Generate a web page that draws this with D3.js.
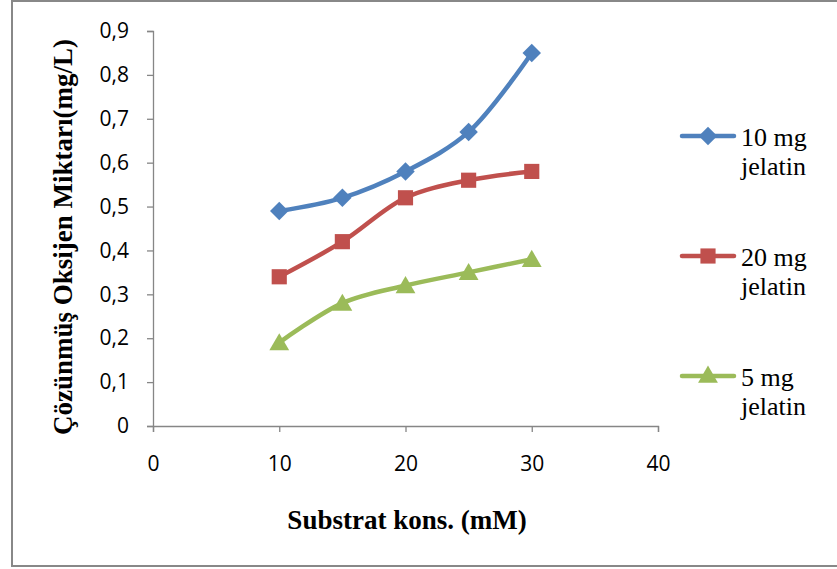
<!DOCTYPE html>
<html>
<head>
<meta charset="utf-8">
<title>Substrat kons.</title>
<script src="https://d3js.org/d3.v7.min.js"></script>
<style>
  body { margin: 0; background: #fff; }
</style>
</head>
<body>
<div id="chart"></div>
<script>
// data
var substrat = [10, 15, 20, 25, 30];
var jelatin10 = [0.49, 0.52, 0.58, 0.67, 0.85];
var jelatin20 = [0.34, 0.42, 0.52, 0.56, 0.58];
var jelatin5 = [0.19, 0.28, 0.32, 0.35, 0.38];
var seriesNames = [["10 mg", "jelatin"], ["20 mg", "jelatin"], ["5 mg", "jelatin"]];
var xTicks = [0, 10, 20, 30, 40];
var yTicks = [0, 0.1, 0.2, 0.3, 0.4, 0.5, 0.6, 0.7, 0.8, 0.9];

var W = 837, H = 569;
var svg = d3.select("#chart").append("svg")
    .attr("width", W).attr("height", H);

// outer frame
svg.append("rect")
    .attr("x", 12).attr("y", 1)
    .attr("width", 840).attr("height", 565)
    .attr("fill", "#fff").attr("stroke", "#888").attr("stroke-width", 2);

var x = d3.scaleLinear().domain([0, 40]).range([153, 658]);
var y = d3.scaleLinear().domain([0, 0.9]).range([426, 31]);

var axisColor = "#868686";
var serif = "'Liberation Serif', 'Times New Roman', serif";
var fmt = function(d) { return d === 0 ? "0" : d3.format(".1f")(d).replace(".", ","); };

// y axis
var gy = svg.append("g").attr("transform", "translate(153,0)")
    .call(d3.axisLeft(y).tickValues(yTicks).tickSize(6).tickPadding(18).tickFormat(fmt));
// x axis
var gx = svg.append("g").attr("transform", "translate(0,426)")
    .call(d3.axisBottom(x).tickValues(xTicks).tickSize(6).tickPadding(24).tickFormat(d3.format("d")));

[gx, gy].forEach(function(g) {
  g.selectAll("path, line").attr("stroke", axisColor).attr("stroke-width", 1.3);
  g.selectAll("text").attr("fill", "#000")
    .style("font-family", "'Open Sans', sans-serif").style("font-size", "21px");
});

// axis titles
svg.append("text")
    .attr("x", 407).attr("y", 529)
    .attr("text-anchor", "middle")
    .style("font-family", serif)
    .style("font-weight", "bold").style("font-size", "27px")
    .text("Substrat kons. (mM)");

svg.append("text")
    .attr("transform", "translate(72,237) rotate(-90)")
    .attr("text-anchor", "middle")
    .style("font-family", serif)
    .style("font-weight", "bold").style("font-size", "27px")
    .text("Çözünmüş Oksijen Miktarı(mg/L)");

var series = [
  { values: jelatin10, color: "#4F81BD", symbol: d3.symbolSquare, size: 170, rot: 45, dy: 0 },
  { values: jelatin20, color: "#C0504D", symbol: d3.symbolSquare, size: 230, rot: 0, dy: 0 },
  { values: jelatin5, color: "#9BBB59", symbol: d3.symbolTriangle, size: 170, rot: 0, dy: 2 }
];

var line = d3.line()
    .x(function(d) { return x(d[0]); })
    .y(function(d) { return y(d[1]); })
    .curve(d3.curveCatmullRom.alpha(0.5));

series.forEach(function(s, i) {
  var pts = substrat.map(function(v, j) { return [v, s.values[j]]; });
  svg.append("path")
      .datum(pts)
      .attr("fill", "none")
      .attr("stroke", s.color)
      .attr("stroke-width", 4.5)
      .attr("stroke-linecap", "round")
      .attr("d", line);

  var sym = d3.symbol().type(s.symbol).size(s.size);
  svg.selectAll(null)
      .data(pts)
      .enter().append("path")
      .attr("d", sym)
      .attr("transform", function(d) {
        return "translate(" + x(d[0]) + "," + (y(d[1]) + s.dy) + ") rotate(" + s.rot + ")";
      })
      .attr("fill", s.color);

  // legend
  var ly = 136 + i * 120;
  var lg = svg.append("g");
  lg.append("line")
      .attr("x1", 682).attr("x2", 734)
      .attr("y1", ly).attr("y2", ly)
      .attr("stroke", s.color).attr("stroke-width", 4.5).attr("stroke-linecap", "round");
  lg.append("path")
      .attr("d", sym)
      .attr("transform", "translate(708," + (ly + s.dy / 2) + ") rotate(" + s.rot + ")")
      .attr("fill", s.color);
  var t = lg.append("text")
      .attr("x", 741).attr("y", ly + 10)
      .style("font-family", serif)
      .style("font-size", "26px").attr("fill", "#000");
  t.append("tspan").attr("x", 741).text(seriesNames[i][0]);
  t.append("tspan").attr("x", 741).attr("dy", 29).text(seriesNames[i][1]);
});
</script>
</body>
</html>
